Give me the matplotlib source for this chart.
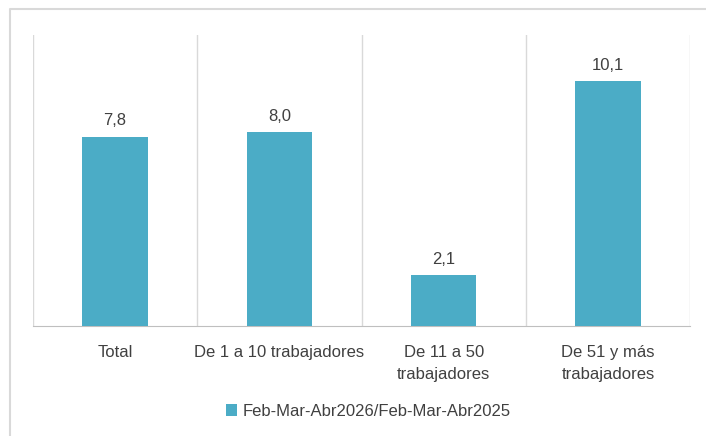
import matplotlib
matplotlib.use('Agg')
from matplotlib import pyplot as plt
from matplotlib.lines import Line2D
import numpy as np

categories = ['Total', 'De 1 a 10 trabajadores', 'De 11 a 50\ntrabajadores',
              'De 51 y más\ntrabajadores']
values = [7.8, 8.0, 2.1, 10.1]
series_name = 'Feb-Mar-Abr2026/Feb-Mar-Abr2025'

bar_color = '#4BACC6'
text_color = '#404040'
grid_color = '#D9D9D9'

plt.rcParams['font.family'] = ['Liberation Sans', 'DejaVu Sans']

fig = plt.figure(figsize=(7.06, 4.36), dpi=100)
ax = fig.add_axes([33 / 706, 110 / 436, 657 / 706, 291 / 436])

x = np.arange(len(categories))
bars = ax.bar(x, values, width=0.4, color=bar_color, label=series_name, zorder=3)

for xi, v in zip(x, values):
    ax.text(xi, v + 0.35, f'{v:.1f}'.replace('.', ','), ha='center', va='bottom',
            fontsize=12, color=text_color)

ax.set_xlim(-0.5, len(categories) - 0.5)
ax.set_ylim(0, 12)
ax.set_yticks([])
ax.set_xticks(x)
ax.set_xticklabels(categories, fontsize=12, color=text_color, linespacing=1.55)
ax.tick_params(axis='x', length=0, pad=14)

for b in np.arange(-0.5, len(categories), 1.0):
    ax.axvline(b, color=grid_color, linewidth=1, zorder=1)

for side in ['top', 'right', 'left']:
    ax.spines[side].set_visible(False)
ax.spines['bottom'].set_color('#BFBFBF')

fig.legend(handles=[bars], labels=[series_name], loc='center',
           bbox_to_anchor=(368 / 706, 1 - 411 / 436), frameon=False,
           fontsize=12, handlelength=0.7, handleheight=0.7, handletextpad=0.3,
           labelcolor=text_color)

# outer frame (only top and left edges visible in the crop)
fig.add_artist(Line2D([10 / 706, 10 / 706, 1.0], [0.0, 1 - 9 / 436, 1 - 9 / 436],
                      transform=fig.transFigure, color=grid_color, linewidth=1.5))

fig.savefig('out.png', dpi=100, facecolor='white')
